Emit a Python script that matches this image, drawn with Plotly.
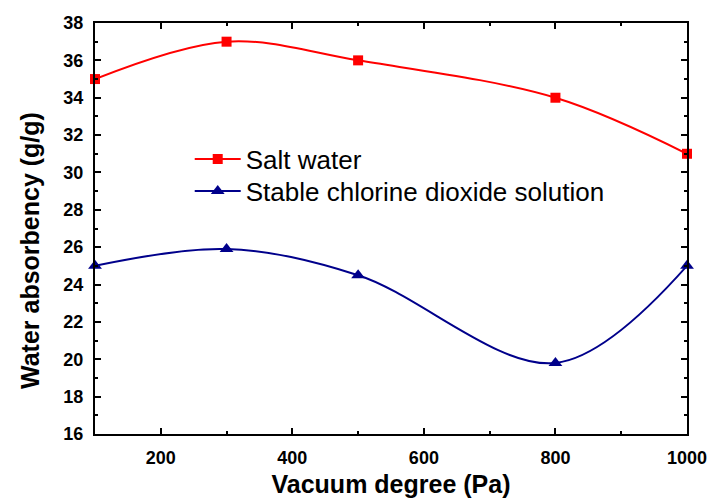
import plotly.graph_objects as go

# Vacuum degree (Pa)
vacuum = [100, 300, 500, 800, 1000]
# Water absorbency (g/g)
salt_water = [35, 37, 36, 34, 31]
chlorine_dioxide = [25, 25.9, 24.5, 19.8, 25]

fig = go.Figure()
fig.add_trace(go.Scatter(
    x=vacuum, y=salt_water, name="Salt water", legend="legend",
    mode="lines+markers", line=dict(color="#ff0000", width=2, shape="spline", smoothing=1.0),
    marker=dict(symbol="square", size=10, color="#ff0000"),
    cliponaxis=False,
))
fig.add_trace(go.Scatter(
    x=vacuum, y=chlorine_dioxide, name="Stable chlorine dioxide solution", legend="legend2",
    mode="lines+markers", line=dict(color="#00008b", width=2, shape="spline", smoothing=1.0),
    marker=dict(symbol="triangle-up", size=12, color="#00008b"),
    cliponaxis=False,
))

axis_font = dict(family="Liberation Sans, Arial", size=18, color="black", weight="bold")
title_font = dict(family="Liberation Sans, Arial", size=25, color="black", weight="bold")
legend_font = dict(family="Liberation Sans, Arial", size=26, color="black")

fig.update_layout(
    width=710, height=499,
    margin=dict(l=95, r=23, t=23, b=65),
    plot_bgcolor="white", paper_bgcolor="white",
    showlegend=True,
    legend=dict(
        x=0.16, y=0.669, xanchor="left", yanchor="middle",
        font=legend_font, bgcolor="rgba(0,0,0,0)", itemwidth=46,
    ),
    legend2=dict(
        x=0.16, y=0.591, xanchor="left", yanchor="middle",
        font=legend_font, bgcolor="rgba(0,0,0,0)", itemwidth=46,
    ),
    xaxis=dict(
        range=[100, 1000], tickvals=[200, 400, 600, 800, 1000],
        showgrid=False, zeroline=False, automargin=False,
        showline=True, linecolor="black", linewidth=2, mirror="ticks",
        ticks="inside", ticklen=6, tickwidth=2, tickcolor="black",
        minor=dict(tickvals=[300, 500, 700, 900], ticks="inside", ticklen=3, tickwidth=2, tickcolor="black"),
        tickfont=axis_font, ticklabelstandoff=6,
        title=dict(text="Vacuum degree (Pa)", font=title_font, standoff=9),
    ),
    yaxis=dict(
        range=[16, 38], tickvals=list(range(16, 39, 2)),
        showgrid=False, zeroline=False, automargin=False,
        showline=True, linecolor="black", linewidth=2, mirror="ticks",
        ticks="inside", ticklen=6, tickwidth=2, tickcolor="black",
        minor=dict(tickvals=list(range(17, 38, 2)), ticks="inside", ticklen=3, tickwidth=2, tickcolor="black"),
        tickfont=axis_font, ticklabelstandoff=6,
    ),
    annotations=[dict(
        text="Water absorbency (g/g)", textangle=-90, showarrow=False,
        xref="paper", yref="paper", x=(30 - 95) / 592, y=1 - (251 - 23) / 411,
        xanchor="center", yanchor="middle",
        font=dict(family="Liberation Sans, Arial", size=25, color="black", weight="bold"),
    )],
)

fig.write_html("out.html")
